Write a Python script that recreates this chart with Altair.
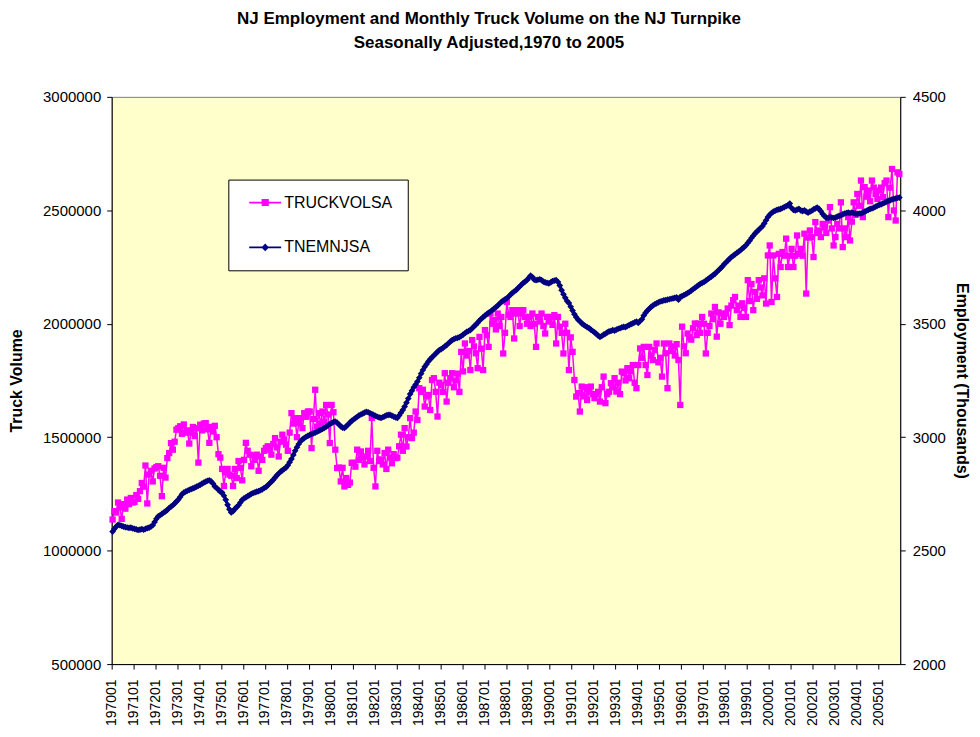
import json
import altair as alt
import pandas as pd

title_lines = ["NJ Employment and Monthly Truck Volume on the NJ Turnpike",
               "Seasonally Adjusted,1970 to 2005"]
series_names = ["TRUCKVOLSA", "TNEMNJSA"]
series_colors = ["#FF00FF", "#000080"]
tick_labels = ["197001", "197101", "197201", "197301", "197401", "197501", "197601",
               "197701", "197801", "197901", "198001", "198101", "198201", "198301",
               "198401", "198501", "198601", "198701", "198801", "198901", "199001",
               "199101", "199201", "199301", "199401", "199501", "199601", "199701",
               "199801", "199901", "200001", "200101", "200201", "200301", "200401",
               "200501"]
left_ticks = [500000, 1000000, 1500000, 2000000, 2500000, 3000000]
right_ticks = [2000, 2500, 3000, 3500, 4000, 4500]

# TRUCKVOLSA, monthly 1970-01 .. 2005-12, in thousands of trucks
truck_thousands = [
    1137, 1174, 1168, 1212, 1190, 1140, 1205, 1185, 1225, 1205, 1232, 1212,  # 1970
    1215, 1245, 1228, 1262, 1298, 1282, 1375, 1208, 1335, 1352, 1305, 1362,  # 1971
    1368, 1372, 1330, 1240, 1365, 1322, 1408, 1430, 1474, 1445, 1480, 1533,  # 1972
    1540, 1548, 1515, 1556, 1520, 1530, 1472, 1520, 1545, 1505, 1540, 1388,  # 1973
    1555, 1530, 1560, 1562, 1535, 1475, 1545, 1525, 1550, 1500, 1425, 1410,  # 1974
    1360, 1285, 1345, 1360, 1335, 1330, 1285, 1360, 1320, 1395, 1365, 1310,  # 1975
    1400, 1475, 1440, 1423, 1372, 1420, 1400, 1423, 1352, 1415, 1400, 1440,  # 1976
    1452, 1460, 1445, 1423, 1470, 1496, 1455, 1415, 1480, 1511, 1490, 1467,  # 1977
    1440, 1520, 1606, 1560, 1584, 1500, 1562, 1584, 1540, 1606, 1590, 1613,  # 1978
    1613, 1452, 1580, 1709, 1547, 1606, 1560, 1613, 1569, 1642, 1600, 1474,  # 1979
    1642, 1610, 1445, 1364, 1366, 1305, 1365, 1283, 1320, 1290, 1300, 1387,  # 1980
    1387, 1370, 1445, 1400, 1437, 1410, 1380, 1415, 1440, 1395, 1585, 1365,  # 1981
    1283, 1440, 1395, 1402, 1380, 1430, 1360, 1445, 1410, 1385, 1425, 1408,  # 1982
    1410, 1460, 1511, 1440, 1540, 1459, 1500, 1584, 1496, 1520, 1613, 1576,  # 1983
    1716, 1700, 1709, 1635, 1680, 1686, 1620, 1752, 1760, 1700, 1591, 1740,  # 1984
    1730, 1700, 1782, 1657, 1740, 1760, 1782, 1720, 1750, 1780, 1700, 1876,  # 1985
    1790, 1913, 1860, 1880, 1796, 1928, 1900, 1870, 1804, 1942, 1890, 1796,  # 1986
    1972, 1950, 1898, 2045, 2000, 2016, 1975, 2045, 1990, 2030, 1869, 1960,  # 1987
    2096, 2040, 2030, 2060, 1935, 2045, 2060, 1990, 2045, 2060, 2030, 2000,  # 1988
    2030, 1990, 2045, 2000, 1898, 2030, 2010, 2045, 1990, 1957, 2030, 2010,  # 1989
    2030, 1995, 2038, 1913, 2030, 1987, 1960, 1869, 2000, 1960, 1796, 1940,  # 1990
    1876, 1752, 1679, 1694, 1613, 1723, 1680, 1720, 1664, 1700, 1723, 1690,  # 1991
    1672, 1690, 1700, 1657, 1720, 1767, 1650, 1690, 1700, 1738, 1720, 1760,  # 1992
    1701, 1740, 1690, 1789, 1782, 1750, 1804, 1760, 1790, 1818, 1740, 1716,  # 1993
    1818, 1891, 1850, 1898, 1818, 1774, 1898, 1860, 1840, 1884, 1913, 1830,  # 1994
    1850, 1767, 1913, 1870, 1716, 1913, 1880, 1900, 1860, 1910, 1840, 1642,  # 1995
    1987, 1900, 1870, 1957, 1940, 1930, 1980, 2001, 1950, 2001, 1960, 2030,  # 1996
    2000, 1869, 1960, 1990, 2045, 2020, 2074, 1943, 2050, 2000, 2045, 2030,  # 1997
    2045, 2067, 1994, 2080, 2104, 2118, 2060, 2080, 2030, 2090, 2070, 2030,  # 1998
    2192, 2100, 2175, 2060, 2140, 2110, 2192, 2160, 2125, 2200, 2089, 2301,  # 1999
    2345, 2096, 2301, 2200, 2118, 2308, 2250, 2316, 2300, 2375, 2250, 2300,  # 2000
    2330, 2250, 2300, 2389, 2308, 2330, 2300, 2397, 2133, 2380, 2411, 2382,  # 2001
    2294, 2448, 2400, 2411, 2382, 2440, 2426, 2400, 2455, 2514, 2420, 2345,  # 2002
    2382, 2440, 2420, 2535, 2338, 2420, 2382, 2470, 2367, 2450, 2535, 2480,  # 2003
    2572, 2520, 2631, 2470, 2602, 2560, 2587, 2540, 2631, 2600, 2572, 2550,  # 2004
    2587, 2600, 2558, 2620, 2631, 2470, 2600, 2682, 2499, 2455, 2667, 2660,  # 2005
]

# TNEMNJSA, NJ nonfarm employment (thousands), monthly 1970-01 .. 2005-12
employment = [
    2584, 2596, 2606, 2614, 2612, 2609, 2606, 2604, 2602, 2600, 2601, 2598,  # 1970
    2596, 2594, 2591, 2593, 2595, 2592, 2596, 2599, 2601, 2606, 2612, 2626,  # 1971
    2640, 2651, 2656, 2662, 2668, 2673, 2680, 2688, 2694, 2700, 2708, 2716,  # 1972
    2725, 2736, 2748, 2756, 2760, 2764, 2768, 2771, 2774, 2778, 2782, 2786,  # 1973
    2790, 2795, 2800, 2804, 2808, 2810, 2805, 2796, 2783, 2776, 2768, 2760,  # 1974
    2756, 2742, 2724, 2702, 2682, 2668, 2674, 2684, 2692, 2700, 2712, 2724,  # 1975
    2730, 2735, 2740, 2745, 2750, 2754, 2757, 2760, 2762, 2766, 2770, 2776,  # 1976
    2780, 2788, 2796, 2804, 2812, 2822, 2832, 2840, 2848, 2854, 2860, 2866,  # 1977
    2876, 2890, 2904, 2922, 2940, 2956, 2970, 2982, 2990, 2996, 3002, 3006,  # 1978
    3010, 3014, 3017, 3020, 3024, 3028, 3032, 3036, 3041, 3046, 3052, 3058,  # 1979
    3062, 3067, 3069, 3064, 3056, 3048, 3042, 3041, 3048, 3056, 3064, 3072,  # 1980
    3078, 3084, 3090, 3096, 3100, 3104, 3108, 3112, 3110, 3106, 3102, 3098,  # 1981
    3094, 3090, 3087, 3085, 3088, 3092, 3096, 3098, 3098, 3095, 3091, 3087,  # 1982
    3085, 3096, 3108, 3120, 3135, 3152, 3170, 3190, 3205, 3220, 3232, 3245,  # 1983
    3262, 3280, 3296, 3310, 3322, 3334, 3344, 3352, 3360, 3368, 3376, 3384,  # 1984
    3388, 3394, 3400, 3406, 3414, 3421, 3428, 3432, 3436, 3438, 3441, 3446,  # 1985
    3452, 3458, 3464, 3468, 3472, 3480, 3488, 3496, 3504, 3514, 3522, 3529,  # 1986
    3536, 3542, 3548, 3554, 3560, 3567, 3573, 3580, 3588, 3596, 3602, 3607,  # 1987
    3612, 3620, 3628, 3636, 3642, 3648, 3656, 3664, 3672, 3680, 3686, 3692,  # 1988
    3702, 3712, 3706, 3694, 3692, 3694, 3696, 3692, 3686, 3682, 3680, 3678,  # 1989
    3682, 3688, 3690, 3692, 3684, 3668, 3648, 3630, 3614, 3600, 3591, 3575,  # 1990
    3558, 3542, 3529, 3518, 3511, 3502, 3496, 3490, 3485, 3481, 3474, 3468,  # 1991
    3462, 3455, 3448, 3442, 3446, 3452, 3456, 3462, 3466, 3468, 3472, 3470,  # 1992
    3474, 3478, 3480, 3484, 3486, 3485, 3490, 3494, 3498, 3502, 3506, 3510,  # 1993
    3504, 3512, 3520, 3536, 3548, 3558, 3566, 3574, 3580, 3586, 3590, 3594,  # 1994
    3598, 3600, 3603, 3604, 3606, 3608, 3610, 3612, 3614, 3616, 3606, 3618,  # 1995
    3622, 3626, 3630, 3635, 3640, 3646, 3652, 3658, 3664, 3670, 3676, 3680,  # 1996
    3684, 3690, 3696, 3702, 3708, 3714, 3720, 3728, 3736, 3744, 3752, 3762,  # 1997
    3770, 3778, 3786, 3794, 3800, 3806, 3812, 3818, 3824, 3832, 3838, 3846,  # 1998
    3856, 3866, 3878, 3888, 3898, 3906, 3914, 3922, 3930, 3942, 3956, 3970,  # 1999
    3980, 3988, 3994, 3998, 4002, 4004, 4006, 4010, 4014, 4018, 4022, 4030,  # 2000
    4010, 4002, 3999, 4003, 4006, 4000, 3996, 4000, 3994, 3990, 3994, 3998,  # 2001
    4004, 4008, 4012, 4006, 3996, 3984, 3974, 3968, 3966, 3970, 3968, 3966,  # 2002
    3968, 3972, 3975, 3978, 3982, 3986, 3988, 3990, 3988, 3990, 3988, 3985,  # 2003
    3984, 3986, 3986, 3990, 3994, 3998, 4002, 4006, 4008, 4012, 4016, 4020,  # 2004
    4024, 4026, 4030, 4034, 4038, 4042, 4044, 4048, 4050, 4052, 4055, 4056,  # 2005
]

FONT = "Liberation Sans"
n_months = len(truck_thousands)

truck_df = pd.DataFrame({
    "t": [i + 0.5 for i in range(n_months)],
    "value": [v * 1000 for v in truck_thousands],
})
emp_df = pd.DataFrame({
    "t": [i + 0.5 for i in range(len(employment))],
    "value": employment,
})
legend_df = pd.DataFrame({"series": series_names})

x_enc = alt.X(
    "t:Q",
    scale=alt.Scale(domain=[0, n_months], nice=False, zero=False),
    axis=alt.Axis(
        values=[12 * i for i in range(len(tick_labels))],
        labelExpr=json.dumps(tick_labels) + "[round(datum.value / 12)]",
        labelAngle=270, labelAlign="right", labelBaseline="middle",
        labelPadding=10, labelFontSize=14, title=None,
    ),
)

y_left = alt.Y(
    "value:Q",
    scale=alt.Scale(domain=[500000, 3000000], nice=False, zero=False),
    axis=alt.Axis(orient="left", values=left_ticks, format="d", title="Truck Volume",
                  labelPadding=6, titleX=-95, titleY=284.5, titleAngle=270,
                  titleAlign="center", titleBaseline="middle"),
)
y_right = alt.Y(
    "value:Q",
    scale=alt.Scale(domain=[2000, 4500], nice=False, zero=False),
    axis=alt.Axis(orient="right", values=right_ticks, format="d",
                  title="Employment (Thousands)", labelPadding=7,
                  titleX=61, titleY=284.5, titleAngle=90,
                  titleAlign="center", titleBaseline="middle"),
)

truck_line = alt.Chart(truck_df).mark_line(color=series_colors[0], strokeWidth=1.5).encode(
    x=x_enc, y=y_left)
truck_pts = alt.Chart(truck_df).mark_point(
    shape="square", filled=True, size=40, color=series_colors[0], opacity=1
).encode(x=x_enc, y=y_left)

emp_line = alt.Chart(emp_df).mark_line(color=series_colors[1], strokeWidth=2.5).encode(
    x=x_enc, y=y_right)
emp_pts = alt.Chart(emp_df).mark_point(
    shape="diamond", filled=True, size=45, color=series_colors[1], opacity=1
).encode(x=x_enc, y=y_right)

legend_paths = [
    "M-0.5,-0.22H7.5V0.22H-0.5Z M2.6,-0.9H4.4V0.9H2.6Z",
    "M-0.5,-0.22H7.5V0.22H-0.5Z M3.5,-0.95L4.45,0L3.5,0.95L2.55,0Z",
]
leg = alt.Legend(
    orient="none", legendX=117, legendY=83, title=None,
    fillColor="white", strokeColor="black", padding=15, rowPadding=29,
    labelFontSize=16, labelFont=FONT, labelColor="black", labelOffset=25,
    labelExpr="datum.label + '\u00a0\u00a0'",
    symbolSize=64, symbolStrokeWidth=0, symbolOpacity=1, cornerRadius=0,
)
legend_layer = alt.Chart(legend_df).mark_point(filled=True, clip=True, opacity=1).encode(
    x=alt.value(-300), y=alt.value(-300),
    color=alt.Color("series:N", scale=alt.Scale(domain=series_names, range=series_colors),
                    legend=leg),
    shape=alt.Shape("series:N", scale=alt.Scale(domain=series_names, range=legend_paths),
                    legend=leg),
)

left_layer = alt.layer(truck_line, truck_pts, legend_layer)
right_layer = alt.layer(emp_line, emp_pts)

chart = alt.layer(left_layer, right_layer).resolve_scale(y="independent").properties(
    width=791, height=569,
    title=alt.TitleParams(text=title_lines, fontSize=17, font=FONT, fontWeight="bold",
                          color="black", anchor="middle", frame="group", dx=-17,
                          offset=38, lineHeight=24),
    padding={"left": 104, "top": 88, "right": 72, "bottom": 64},
    autosize=alt.AutoSizeParams(type="none"),
    background="white",
).configure_view(
    fill="#FFFFCC", stroke="#808080", strokeWidth=1,
).configure_axis(
    grid=False, domainColor="black", tickColor="black", tickSize=5,
    labelFont=FONT, labelFontSize=15, labelColor="black",
    titleFont=FONT, titleFontSize=16, titleFontWeight="bold", titleColor="black",
)

chart.save("out.html", embed_options={"renderer": "svg", "actions": False})
